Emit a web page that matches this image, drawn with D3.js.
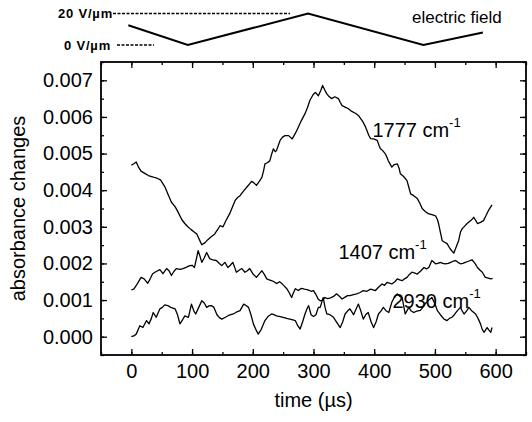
<!DOCTYPE html>
<html>
<head>
<meta charset="utf-8">
<script src="https://cdn.jsdelivr.net/npm/d3@7"></script>
<style>
  body { margin: 0; background: #fff; }
  svg { display: block; font-family: "Liberation Sans", Arial, sans-serif; }
</style>
</head>
<body>
<div id="chart"></div>
<script>
// absorbance change traces, [time in µs, absorbance change]
const trace1777 = [
  [0, 0.00468], [4, 0.00472], [8, 0.00477], [12, 0.00462], [16, 0.00452], [22, 0.00446], [28, 0.0044],
  [36, 0.00436], [43, 0.00432], [48, 0.00428], [55, 0.0041], [60, 0.0039], [66, 0.00367], [72, 0.00355],
  [77, 0.0034], [83, 0.0032], [88, 0.00309], [93, 0.003], [98, 0.00293], [104, 0.00285], [108, 0.0028],
  [112, 0.00265], [116, 0.00251], [121, 0.00256], [126, 0.00265], [131, 0.00272], [137, 0.0028],
  [142, 0.00292], [146, 0.00303], [151, 0.003], [156, 0.00318], [162, 0.00336], [167, 0.00356],
  [171, 0.00372], [175, 0.0038], [179, 0.00385], [185, 0.00398], [190, 0.00408], [195, 0.00418],
  [198, 0.00424], [202, 0.0042], [206, 0.00413], [211, 0.00425], [215, 0.00435], [218, 0.00455],
  [220, 0.00472], [224, 0.00475], [228, 0.0048], [231, 0.00498], [234, 0.00513], [237, 0.00505],
  [239, 0.00508], [242, 0.00522], [245, 0.00536], [249, 0.00545], [253, 0.00549], [259, 0.00549],
  [265, 0.0054], [270, 0.00555], [275, 0.00572], [280, 0.0059], [286, 0.00609], [290, 0.00625],
  [294, 0.00645], [299, 0.0066], [303, 0.00667], [308, 0.00658], [312, 0.00672], [315, 0.00686],
  [319, 0.00672], [322, 0.00663], [326, 0.00655], [330, 0.0065], [335, 0.00655], [341, 0.0065],
  [344, 0.0064], [347, 0.00631], [352, 0.00627], [357, 0.00623], [363, 0.00615], [369, 0.0061],
  [374, 0.00604], [378, 0.00595], [382, 0.00585], [385, 0.00575], [388, 0.00563], [391, 0.0055],
  [394, 0.00541], [399, 0.0054], [405, 0.00536], [408, 0.00522], [410, 0.00514], [414, 0.00508],
  [418, 0.005], [421, 0.0049], [423, 0.00481], [426, 0.00472], [429, 0.00463], [433, 0.0047],
  [438, 0.00472], [441, 0.0046], [443, 0.00445], [448, 0.00438], [454, 0.00426], [457, 0.00408],
  [460, 0.0039], [465, 0.00385], [471, 0.00377], [475, 0.00365], [479, 0.0035], [484, 0.00342],
  [489, 0.00336], [495, 0.00333], [501, 0.0033], [504, 0.0032], [506, 0.00309], [509, 0.00285],
  [512, 0.00262], [516, 0.00258], [520, 0.00254], [525, 0.0024], [531, 0.00228], [535, 0.00245],
  [539, 0.00262], [542, 0.00285], [545, 0.00295], [549, 0.00302], [553, 0.00309], [556, 0.00313],
  [559, 0.00317], [562, 0.00322], [564, 0.00326], [567, 0.00318], [570, 0.00309], [575, 0.00312],
  [580, 0.00317], [584, 0.0033], [588, 0.00344], [594, 0.0036]
];

const trace1407 = [
  [0, 0.00128], [4, 0.0013], [10, 0.00145], [16, 0.00162], [21, 0.00158], [27, 0.00146], [31, 0.00158],
  [35, 0.00172], [41, 0.00178], [47, 0.00183], [52, 0.00172], [58, 0.00186], [62, 0.0018], [66, 0.00167],
  [70, 0.00178], [74, 0.00186], [80, 0.00184], [85, 0.00186], [91, 0.0019], [96, 0.00194], [100, 0.00195],
  [104, 0.00189], [107, 0.00212], [110, 0.00235], [113, 0.0022], [116, 0.00203], [120, 0.00215],
  [124, 0.0023], [127, 0.0022], [129, 0.00213], [134, 0.0021], [140, 0.00208], [145, 0.002],
  [149, 0.00194], [154, 0.00203], [159, 0.00189], [163, 0.00195], [167, 0.00203], [170, 0.0019],
  [173, 0.00176], [178, 0.00182], [182, 0.00186], [187, 0.00176], [191, 0.0018], [195, 0.00186],
  [200, 0.00172], [206, 0.00162], [211, 0.00172], [215, 0.0018], [219, 0.0017], [223, 0.00158],
  [227, 0.00155], [231, 0.00153], [235, 0.0015], [239, 0.00145], [244, 0.0015], [248, 0.00145],
  [252, 0.00138], [256, 0.00131], [260, 0.0012], [264, 0.00107], [267, 0.0012], [270, 0.00131],
  [275, 0.00126], [280, 0.00132], [285, 0.0013], [291, 0.00128], [296, 0.00124], [300, 0.00126],
  [304, 0.00115], [308, 0.00102], [311, 0.00098], [315, 0.001], [319, 0.00107], [323, 0.00104],
  [327, 0.00105], [333, 0.0011], [338, 0.00117], [343, 0.0011], [347, 0.00103], [352, 0.00108],
  [356, 0.00112], [360, 0.00112], [366, 0.00115], [371, 0.00117], [376, 0.0012], [382, 0.00126],
  [388, 0.00124], [394, 0.0013], [398, 0.00128], [402, 0.00126], [407, 0.00135], [413, 0.00144],
  [417, 0.0014], [421, 0.00148], [425, 0.00146], [429, 0.00144], [434, 0.0015], [438, 0.00158],
  [442, 0.00155], [446, 0.00153], [450, 0.00158], [454, 0.00162], [458, 0.0017], [462, 0.00176],
  [466, 0.00174], [471, 0.00171], [477, 0.0018], [482, 0.00189], [486, 0.00185], [490, 0.00189],
  [495, 0.00208], [501, 0.00199], [505, 0.002], [509, 0.00203], [513, 0.002], [517, 0.00199],
  [522, 0.002], [526, 0.00203], [530, 0.00206], [534, 0.00208], [538, 0.00203], [542, 0.00199],
  [546, 0.002], [550, 0.00203], [555, 0.00206], [561, 0.0021], [566, 0.002], [570, 0.00189],
  [574, 0.00182], [578, 0.00176], [583, 0.00162], [588, 0.0016], [592, 0.00158], [595, 0.00159]
];

const trace2930 = [
  [0, 0.0], [4, 0.00002], [8, 0.00007], [14, 0.0003], [19, 0.00025], [25, 0.00044], [29, 0.00035],
  [33, 0.0005], [36, 0.00066], [41, 0.00053], [47, 0.00076], [51, 0.0008], [55, 0.00087], [60, 0.00085],
  [65, 0.0008], [72, 0.00076], [76, 0.0006], [80, 0.00035], [84, 0.00045], [88, 0.00057], [94, 0.00053],
  [99, 0.00089], [103, 0.0007], [106, 0.00062], [111, 0.0008], [116, 0.00098], [120, 0.00092],
  [124, 0.0008], [128, 0.00084], [132, 0.00085], [136, 0.0008], [141, 0.0006], [145, 0.00052],
  [149, 0.00048], [155, 0.00053], [160, 0.00058], [168, 0.00062], [174, 0.00068], [179, 0.00071],
  [185, 0.00089], [189, 0.00085], [193, 0.0008], [197, 0.0006], [201, 0.00035], [205, 0.0002],
  [209, 0.00007], [214, 0.0002], [220, 0.00044], [225, 0.00055], [231, 0.00062], [235, 0.0006],
  [239, 0.00057], [245, 0.00055], [250, 0.00053], [256, 0.0005], [261, 0.00048], [266, 0.00046],
  [270, 0.00044], [274, 0.0003], [278, 0.00021], [282, 0.0004], [286, 0.00062], [289, 0.00075],
  [292, 0.00085], [296, 0.0006], [300, 0.00055], [304, 0.0006], [308, 0.0008], [311, 0.0008],
  [316, 0.00107], [319, 0.0008], [322, 0.00062], [327, 0.0006], [333, 0.00053], [338, 0.0004],
  [344, 0.00025], [348, 0.0004], [352, 0.00062], [356, 0.0007], [360, 0.00076], [366, 0.0006],
  [370, 0.00075], [374, 0.00089], [378, 0.0007], [382, 0.00048], [386, 0.0006], [390, 0.00066],
  [395, 0.0004], [399, 0.00025], [403, 0.0004], [407, 0.00062], [411, 0.0007], [415, 0.0008],
  [420, 0.0007], [424, 0.00066], [429, 0.00094], [434, 0.0011], [438, 0.00117], [442, 0.0011],
  [446, 0.00107], [451, 0.00062], [457, 0.0008], [461, 0.0007], [465, 0.00066], [470, 0.0007],
  [476, 0.00072], [480, 0.0008], [484, 0.0009], [490, 0.001], [495, 0.00107], [500, 0.0009],
  [504, 0.00071], [509, 0.0006], [515, 0.00048], [520, 0.00044], [524, 0.0005], [528, 0.00053],
  [532, 0.0006], [537, 0.00071], [542, 0.0008], [545, 0.0007], [548, 0.00062], [552, 0.0007],
  [556, 0.0008], [561, 0.0007], [567, 0.00062], [571, 0.0005], [575, 0.00035], [578, 0.0002],
  [581, 0.00012], [584, 0.0002], [586, 0.00025], [589, 0.00018], [592, 0.00012], [594, 0.00025]
];

// applied field waveform, [time in µs, field in V/µm]
const fieldWave = [[-5, 12.5], [93, 0], [291, 20], [481, 0], [579, 8]];
const fieldLevels = [20, 0];

// curve labels: wavenumber, anchor time, anchor absorbance
const traceLabels = [
  { name: '1777', t: 397, v: 0.00544 },
  { name: '1407', t: 341, v: 0.00213 },
  { name: '2930', t: 430, v: 0.00079 }
];

const xTicks = [0, 100, 200, 300, 400, 500, 600];
const yTicks = [0, 0.001, 0.002, 0.003, 0.004, 0.005, 0.006, 0.007];

const W = 532, H = 422;
const margin = { top: 62, right: 6, bottom: 67, left: 101 };
const width = W - margin.left - margin.right;
const height = H - margin.top - margin.bottom;

const svg = d3.select('#chart').append('svg')
  .attr('width', W)
  .attr('height', H);

const g = svg.append('g')
  .attr('transform', `translate(${margin.left},${margin.top})`);

const x = d3.scaleLinear().domain([-50, 650]).range([0, width]);
const y = d3.scaleLinear().domain([-0.0005, 0.0075]).range([height, 0]);

// minor ticks (all four sides, inward)
const minorX = d3.range(-50, 651, 50);
const minorY = d3.range(-0.0005, 0.00751, 0.0005);
function styleAxis(sel) {
  sel.select('.domain').remove();
  sel.selectAll('line').attr('stroke', '#000').attr('stroke-width', 1.3);
  sel.selectAll('text').attr('fill', '#000').style('font-size', '20px')
    .style('font-family', '"Liberation Sans", Arial, sans-serif');
}

g.append('g').attr('transform', `translate(0,${height})`)
  .call(d3.axisBottom(x).tickValues(minorX).tickSize(-3).tickFormat(''))
  .call(styleAxis);
g.append('g')
  .call(d3.axisTop(x).tickValues(minorX).tickSize(-3).tickFormat(''))
  .call(styleAxis);
g.append('g')
  .call(d3.axisLeft(y).tickValues(minorY).tickSize(-3).tickFormat(''))
  .call(styleAxis);
g.append('g').attr('transform', `translate(${width},0)`)
  .call(d3.axisRight(y).tickValues(minorY).tickSize(-3).tickFormat(''))
  .call(styleAxis);

// major ticks
g.append('g').attr('transform', `translate(0,${height})`)
  .call(d3.axisBottom(x).tickValues(xTicks).tickSize(-6).tickPadding(9).tickFormat(d3.format('d')))
  .call(styleAxis);
g.append('g')
  .call(d3.axisTop(x).tickValues(xTicks).tickSize(-6).tickFormat(''))
  .call(styleAxis);
g.append('g')
  .call(d3.axisLeft(y).tickValues(yTicks).tickSize(-6).tickPadding(8).tickFormat(d3.format('.3f')))
  .call(styleAxis);
g.append('g').attr('transform', `translate(${width},0)`)
  .call(d3.axisRight(y).tickValues(yTicks).tickSize(-6).tickFormat(''))
  .call(styleAxis);

// frame
g.append('rect')
  .attr('width', width)
  .attr('height', height)
  .attr('fill', 'none')
  .attr('stroke', '#000')
  .attr('stroke-width', 1.8);

// traces
const line = d3.line().x(d => x(d[0])).y(d => y(d[1]));
[trace1777, trace1407, trace2930].forEach(tr => {
  g.append('path')
    .datum(tr)
    .attr('d', line)
    .attr('fill', 'none')
    .attr('stroke', '#000')
    .attr('stroke-width', 1.3)
    .attr('stroke-linejoin', 'round');
});

// trace labels with superscript
traceLabels.forEach(l => {
  const t = g.append('text')
    .attr('x', x(l.t))
    .attr('y', y(l.v))
    .attr('fill', '#000')
    .style('font-size', '20px')
    .text(`${l.name} cm`);
  t.append('tspan')
    .attr('dy', -10)
    .style('font-size', '13px')
    .text('-1');
});

// axis titles
g.append('text')
  .attr('x', width / 2)
  .attr('y', height + 52)
  .attr('text-anchor', 'middle')
  .style('font-size', '20px')
  .text('time (µs)');

g.append('text')
  .attr('transform', 'rotate(-90)')
  .attr('x', -height / 2)
  .attr('y', -83)
  .attr('dy', '0.35em')
  .attr('text-anchor', 'middle')
  .style('font-size', '20px')
  .text('absorbance changes');

// electric field waveform on top
const fy = d3.scaleLinear().domain([0, 20]).range([45, 13.5]);
const fieldLine = d3.line().x(d => margin.left + x(d[0])).y(d => fy(d[1]));
svg.append('path')
  .datum(fieldWave)
  .attr('d', fieldLine)
  .attr('fill', 'none')
  .attr('stroke', '#000')
  .attr('stroke-width', 2);

// reference levels with dotted leaders
const levelSpan = { 20: [113, 290], 0: [117, 154] };
fieldLevels.forEach(v => {
  svg.append('text')
    .attr('x', v === 20 ? 113 : 111)
    .attr('y', fy(v))
    .attr('dy', '0.35em')
    .attr('text-anchor', 'end')
    .style('font-size', '13px')
    .style('letter-spacing', '0.8px')
    .style('font-weight', 'bold')
    .text(`${v} V/µm`);
  svg.append('line')
    .attr('x1', levelSpan[v][0])
    .attr('x2', levelSpan[v][1])
    .attr('y1', fy(v))
    .attr('y2', fy(v))
    .attr('stroke', '#000')
    .attr('stroke-width', 1.5)
    .attr('stroke-dasharray', '3,1.5');
});

svg.append('text')
  .attr('x', 412)
  .attr('y', 23)
  .style('font-size', '17px')
  .text('electric field');
</script>
</body>
</html>
